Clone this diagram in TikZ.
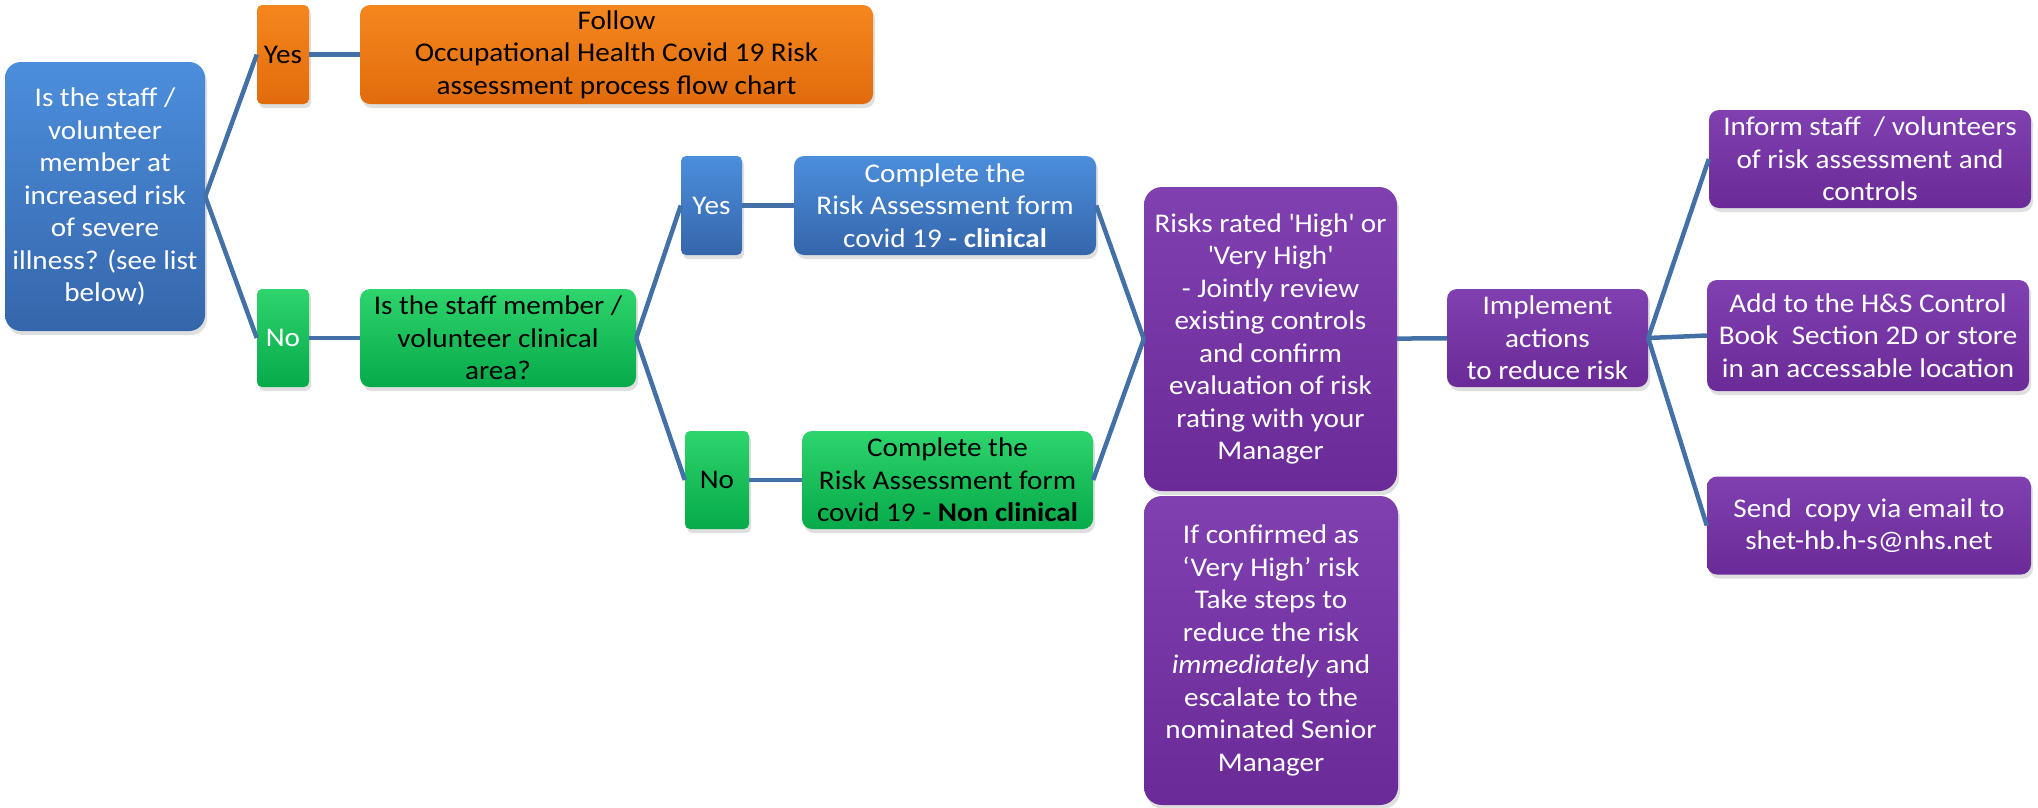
\documentclass[tikz,border=0pt]{standalone}
\usepackage{fontspec}
\setmainfont{Carlito}[FakeStretch=1.08]
\usepackage{tikz}
\usetikzlibrary{shadows, calc}

\definecolor{bluetop}{HTML}{4C8EDC}
\definecolor{bluebot}{HTML}{3566AB}
\definecolor{orangetop}{HTML}{F5871F}
\definecolor{orangebot}{HTML}{E16B0B}
\definecolor{greentop}{HTML}{2ED46C}
\definecolor{greenbot}{HTML}{06AA4A}
\definecolor{purpletop}{HTML}{8040B0}
\definecolor{purplebot}{HTML}{6A2B98}
\definecolor{linkcol}{HTML}{4371A7}

\begin{document}
\begin{tikzpicture}[node distance=100pt, x=1pt, y=1pt, every node/.style={font=\fontsize{27}{32.5}\selectfont}]
    \tikzstyle{box} = [rectangle, rounded corners=10pt, text centered, align=center, inner sep=1pt, drop shadow={shadow xshift=2pt, shadow yshift=-4pt, opacity=0.25}]
    \tikzstyle{bluebox} = [box, top color=bluetop, bottom color=bluebot, text=white]
    \tikzstyle{orangebox} = [box, top color=orangetop, bottom color=orangebot, text=black]
    \tikzstyle{greenbox} = [box, top color=greentop, bottom color=greenbot, text=black]
    \tikzstyle{purplebox} = [box, top color=purpletop, bottom color=purplebot, text=white]
    \tikzstyle{line} = [line width=4.5pt, draw=linkcol]
    \useasboundingbox (0,0) rectangle (2038,-807);
    % Nodes
    \node (atrisk) [bluebox, rounded corners=16pt, minimum width=200pt, minimum height=269pt] at (105,-196.5) {Is the staff /\\ volunteer\\ member at\\ increased risk\\ of severe\\ illness? (see list\\ below)};
    \node (yesrisk) [orangebox, rounded corners=5pt, minimum width=52pt, minimum height=99pt, right of=atrisk, xshift=78pt, yshift=142pt] {Yes};
    \node (ohflow) [orangebox, minimum width=513pt, minimum height=99pt, right of=yesrisk, xshift=233.5pt] {Follow\\ Occupational Health Covid 19 Risk\\ assessment process flow chart};
    \node (norisk) [greenbox, text=white, rounded corners=5pt, minimum width=52pt, minimum height=98pt, right of=atrisk, xshift=78pt, yshift=-141.5pt] {No};
    \node (clinarea) [greenbox, minimum width=276pt, minimum height=98pt, right of=norisk, xshift=115pt] {Is the staff member /\\ volunteer clinical\\ area?};
    \node (yesclin) [bluebox, rounded corners=5pt, minimum width=61pt, minimum height=99pt, right of=clinarea, xshift=113.5pt, yshift=132.5pt] {Yes};
    \node (formclin) [bluebox, minimum width=302pt, minimum height=99pt, right of=yesclin, xshift=133.5pt] {Complete the\\ Risk Assessment form\\ covid 19 - \textbf{clinical}};
    \node (noclin) [greenbox, rounded corners=5pt, minimum width=64pt, minimum height=98pt, right of=clinarea, xshift=119pt, yshift=-142pt] {No};
    \node (formnonclin) [greenbox, minimum width=291pt, minimum height=98pt, right of=noclin, xshift=130.5pt] {Complete the\\ Risk Assessment form\\ covid 19 - \textbf{Non clinical}};
    \node (review) [purplebox, rounded corners=18pt, minimum width=253pt, minimum height=304pt, right of=formclin, xshift=225.5pt, yshift=-133.5pt] {Risks rated \textquotesingle High\textquotesingle\ or\\ \textquotesingle Very High\textquotesingle\\ - Jointly review\\ existing controls\\ and confirm\\ evaluation of risk\\ rating with your\\ Manager};
    \node (veryhigh) [purplebox, rounded corners=18pt, minimum width=254pt, minimum height=309pt, below of=review, xshift=0.5pt, yshift=-211.5pt] {If confirmed as\\ ‘Very High’ risk\\ Take steps to\\ reduce the risk\\ \textit{immediately} and\\ escalate to the\\ nominated Senior\\ Manager};
    \node (implement) [purplebox, minimum width=201pt, minimum height=98pt, right of=review, xshift=177pt, yshift=1pt] {Implement\\ actions\\ to reduce risk};
    \node (store) [purplebox, minimum width=322pt, minimum height=111pt, right of=implement, xshift=220.5pt, yshift=2.5pt] {Add to the H\&S Control\\ Book ~Section 2D or store\\ in an accessable location};
    \node (inform) [purplebox, minimum width=322pt, minimum height=98pt, above of=store, xshift=2pt, yshift=76.5pt] {Inform staff ~/ volunteers\\ of risk assessment and\\ controls};
    \node (email) [purplebox, minimum width=324pt, minimum height=98pt, below of=store, xshift=1pt, yshift=-90pt] {Send ~copy via email to\\ shet-hb.h-s@nhs.net};
    % Links
    \draw [line] (atrisk.east) -- (yesrisk.west);
    \draw [line] (atrisk.east) -- (norisk.west);
    \draw [line] (yesrisk) -- (ohflow);
    \draw [line] (norisk) -- (clinarea);
    \draw [line] (clinarea.east) -- (yesclin.west);
    \draw [line] (clinarea.east) -- (noclin.west);
    \draw [line] (yesclin) -- (formclin);
    \draw [line] (noclin) -- (formnonclin);
    \draw [line] (formclin.east) -- (review.west);
    \draw [line] (formnonclin.east) -- (review.west);
    \draw [line] (review) -- (implement);
    \draw [line] (implement.east) -- (inform.west);
    \draw [line] (implement.east) -- (store.west);
    \draw [line] (implement.east) -- (email.west);

    \end{tikzpicture}
\end{document}
